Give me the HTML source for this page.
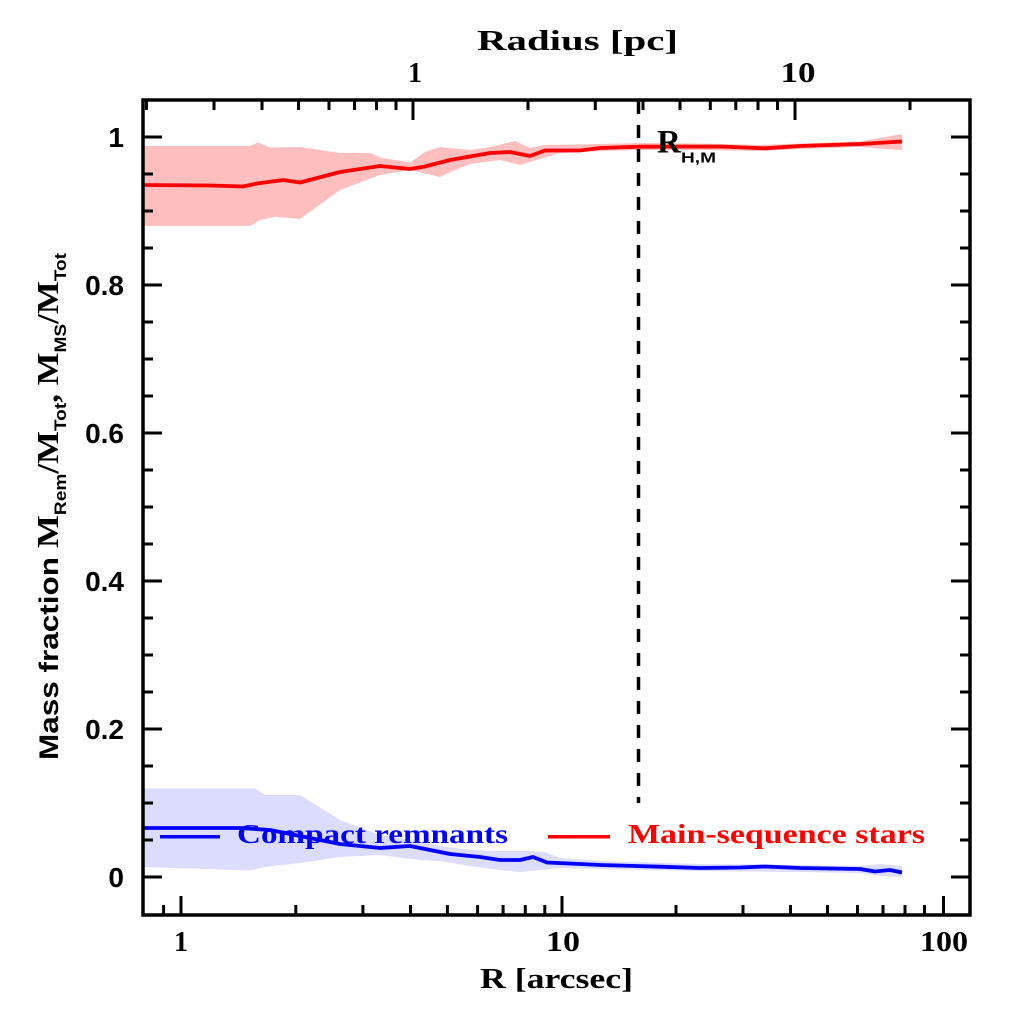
<!DOCTYPE html>
<html>
<head>
<meta charset="utf-8">
<style>
html,body{margin:0;padding:0;background:#fff;}
svg{display:block;}
.ser{font-family:"Liberation Serif",serif;font-weight:bold;}
.san{font-family:"Liberation Sans",sans-serif;font-weight:bold;}
</style>
</head>
<body>
<svg width="1024" height="1024" viewBox="0 0 1024 1024" xmlns="http://www.w3.org/2000/svg">
<rect width="1024" height="1024" fill="#fff"/>
<polygon fill="#ffbfbf" points="143,146 250,146 258,142.5 270,147.5 300,147 340,153 370,153 382,158 410,162.5 425,152 440,147 470,150 490,147 515,141 530,148 545,145 600,144 640,143 700,143.5 760,145 800,143.5 860,141.5 885,137 902,134 902,150 885,149 860,147 800,149 760,151 700,150 640,150 600,151 560,153 530,162 520,165 500,160 470,164 450,172 440,177 410,170 380,175 340,190 300,219 275,216.7 260,220 250,226 143,226"/>
<polygon fill="#dcdcff" points="143,788.5 255,788.5 265,795 300,795 340,820 380,835 420,841.5 440,846 470,850 500,851 530,851 545,852 560,858 600,861 700,864 800,865 860,866 880,864 902,866 902,877 880,876 860,873 800,872 700,871 600,869 560,868 540,870 520,872 500,870 470,866 440,861 420,860 380,855 340,857 300,863 265,867 250,870.5 143,867"/>
<polyline fill="none" stroke="#ff0000" stroke-width="3.8" stroke-linejoin="round" points="143,185 210,185.5 243,186.5 257,183.5 283,180 300,182.5 340,172 380,166 410,169 425,166.5 450,160 490,153 510,152 530,156 545,150.5 580,150.5 600,148 640,146.7 720,146.5 765,148.3 800,146 860,144 885,142.5 902,141.5"/>
<polyline fill="none" stroke="#0000ff" stroke-width="3.8" stroke-linejoin="round" points="143,828 240,828 270,830 300,836 340,844 380,848 410,846 430,850 450,854 480,857 500,860 520,860 533,857 547,862.5 580,864 600,865 660,866.7 700,868 740,867.5 765,866.5 800,868 860,869 875,871.5 890,870 902,872.5"/>
<line x1="638.5" y1="101" x2="638.5" y2="803" stroke="#000" stroke-width="3.5" stroke-dasharray="13 11"/>
<text class="ser" x="657" y="152.5" font-size="33">R</text>
<text class="san" x="681" y="162.5" font-size="15" textLength="35" lengthAdjust="spacingAndGlyphs">H,M</text>
<line x1="160" y1="836.7" x2="220" y2="836.7" stroke="#0000ff" stroke-width="3.5"/>
<text class="ser" x="237" y="843" font-size="27" fill="#0000ff" textLength="271" lengthAdjust="spacingAndGlyphs">Compact remnants</text>
<line x1="548" y1="836.7" x2="610" y2="836.7" stroke="#ff0000" stroke-width="3.5"/>
<text class="ser" x="628" y="843" font-size="27" fill="#ff0000" textLength="297" lengthAdjust="spacingAndGlyphs">Main-sequence stars</text>
<path stroke="#000" stroke-width="3" fill="none" d="
M181 915V896 M562 915V896 M943.5 915V896
M163.6 915V905 M295.8 915V905 M362.9 915V905 M410.5 915V905 M447.4 915V905 M477.6 915V905 M503.1 915V905 M525.3 915V905 M544.8 915V905
M676 915V905 M743 915V905 M790.5 915V905 M827.5 915V905 M857.5 915V905 M883 915V905 M905 915V905 M924.5 915V905
M413 100V120 M795 100V120
M146.5 100V110 M214 100V110 M262 100V110 M298.5 100V110 M329 100V110 M354.5 100V110 M376.5 100V110 M396 100V110
M528 100V110 M595.3 100V110 M643 100V110 M680 100V110 M710.3 100V110 M735.8 100V110 M758 100V110 M777.5 100V110 M910 100V110
M143 877H162 M143 729H162 M143 581H162 M143 433H162 M143 285H162 M143 137H162
M143 840H153 M143 803H153 M143 766H153 M143 692H153 M143 655H153 M143 618H153 M143 544H153 M143 507H153 M143 470H153 M143 396H153 M143 359H153 M143 322H153 M143 248H153 M143 211H153 M143 174H153
M970 877H951 M970 729H951 M970 581H951 M970 433H951 M970 285H951 M970 137H951
M970 840H960 M970 803H960 M970 766H960 M970 692H960 M970 655H960 M970 618H960 M970 544H960 M970 507H960 M970 470H960 M970 396H960 M970 359H960 M970 322H960 M970 248H960 M970 211H960 M970 174H960"/>
<rect x="143" y="100" width="827" height="815" fill="none" stroke="#000" stroke-width="3.5"/>
<g class="san" font-size="28" text-anchor="end" fill="#000">
<text x="124" y="887">0</text>
<text x="124" y="739">0.2</text>
<text x="124" y="591">0.4</text>
<text x="124" y="443">0.6</text>
<text x="124" y="295">0.8</text>
<text x="124" y="147">1</text>
</g>
<g class="ser" font-size="28" text-anchor="middle" fill="#000">
<text x="181" y="951">1</text>
<text x="563" y="951" textLength="34" lengthAdjust="spacingAndGlyphs">10</text>
<text x="944" y="951" textLength="48" lengthAdjust="spacingAndGlyphs">100</text>
<text x="415" y="82">1</text>
<text x="798" y="82" textLength="35" lengthAdjust="spacingAndGlyphs">10</text>
</g>
<text class="ser" x="480" y="988" font-size="28" textLength="153" lengthAdjust="spacingAndGlyphs">R [arcsec]</text>
<text class="ser" x="477" y="50" font-size="28" textLength="201" lengthAdjust="spacingAndGlyphs">Radius [pc]</text>
<g transform="translate(58,0) rotate(-90)">
<text class="san" x="-760" y="0" font-size="27" textLength="203" lengthAdjust="spacingAndGlyphs">Mass fraction</text>
<text class="ser" x="-548" y="0" font-size="31" textLength="295" lengthAdjust="spacingAndGlyphs">M<tspan class="san" font-size="17" dy="8">Rem</tspan><tspan dy="-8">/M</tspan><tspan class="san" font-size="17" dy="8">Tot</tspan><tspan dy="-8">,  M</tspan><tspan class="san" font-size="17" dy="8">MS</tspan><tspan dy="-8">/M</tspan><tspan class="san" font-size="17" dy="8">Tot</tspan></text>
</g>
</svg>
</body>
</html>
